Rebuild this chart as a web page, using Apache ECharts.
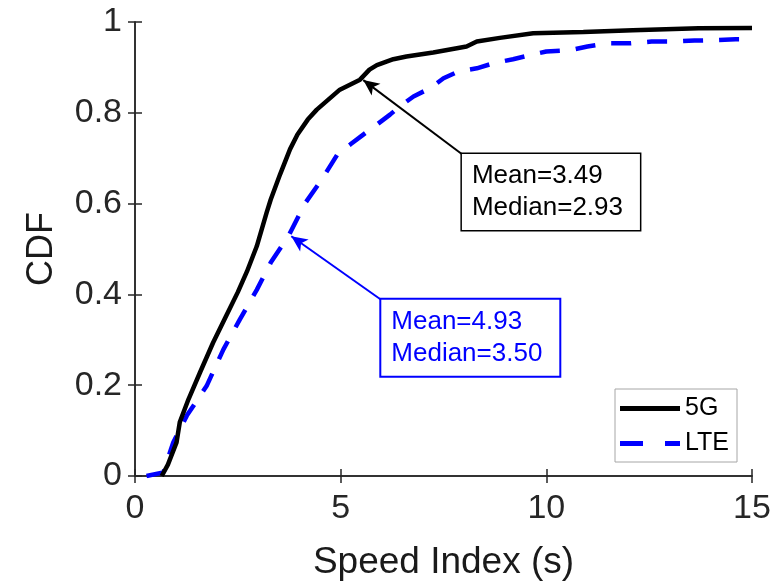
<!DOCTYPE html>
<html>
<head>
<meta charset="utf-8">
<script src="https://cdn.jsdelivr.net/npm/echarts@6/dist/echarts.min.js"></script>
<style>
  html, body { margin: 0; padding: 0; background: #fff; }
  #chart { width: 779px; height: 586px; }
</style>
</head>
<body>
<div id="chart"></div>
<script>
// CDF of speed index
const fiveGX = [0.65, 0.8, 1.01, 1.09, 1.3, 1.58, 1.9, 2.23, 2.5, 2.72, 2.96, 3.2, 3.3, 3.53, 3.77, 3.95, 4.2, 4.42, 4.98, 5.47, 5.7, 5.88, 6.28, 6.6, 7.25, 8.06, 8.31, 8.87, 9.68, 10.9, 12.1, 13.7, 15];
const fiveGY = [0, 0.025, 0.074, 0.119, 0.169, 0.228, 0.294, 0.355, 0.405, 0.45, 0.506, 0.58, 0.609, 0.665, 0.72, 0.752, 0.785, 0.807, 0.851, 0.873, 0.895, 0.905, 0.918, 0.924, 0.933, 0.946, 0.957, 0.965, 0.975, 0.978, 0.982, 0.986, 0.987];

const lteX = [0.28, 0.69, 0.93, 1.26, 1.74, 2.15, 2.55, 2.96, 3.3, 3.74, 4.13, 4.54, 4.94, 5.23, 5.55, 5.88, 6.2, 6.44, 6.77, 7.17, 7.5, 7.86, 8.31, 8.71, 9.19, 9.6, 10.0, 10.58, 11.0, 11.47, 12.04, 12.56, 13.1, 13.6, 14.1, 14.6, 15];
const lteY = [0, 0.008, 0.074, 0.133, 0.198, 0.279, 0.345, 0.41, 0.47, 0.53, 0.6, 0.653, 0.711, 0.73, 0.752, 0.774, 0.796, 0.814, 0.836, 0.854, 0.876, 0.891, 0.898, 0.909, 0.918, 0.927, 0.935, 0.938, 0.946, 0.953, 0.953, 0.957, 0.957, 0.959, 0.96, 0.962, 0.962];

const seriesNames = ['5G', 'LTE'];
const fiveGText = ['Mean=3.49', 'Median=2.93'];
const lteText = ['Mean=4.93', 'Median=3.50'];

// annotation anchors in data units: [box corner, arrow tip]
const fiveGNote = [[7.96, 0.708], [5.55, 0.872]];
const lteNote = [[6.0, 0.387], [3.8, 0.528]];

const axisColor = '#262626';
const font = 'Liberation Sans, Arial, Helvetica, sans-serif';
// legend icons: solid bar and the dash pattern of the LTE line
const solidIcon = 'path://M0,0 L60,0 L60,5 L0,5 Z';
const dashIcon = 'path://M0,0 L23,0 L23,5 L0,5 Z M45,0 L60,0 L60,5 L45,5 Z';

function pairs(xs, ys) {
  return xs.map((x, i) => [x, ys[i]]);
}

function note(anchor, lines, color, borderW) {
  return {
    markLine: {
      silent: true,
      symbol: ['none', 'arrow'],
      symbolSize: 12,
      label: { show: false },
      lineStyle: { color: color, width: 2, type: 'solid' },
      data: [[{ coord: anchor[0], symbol: 'none' }, { coord: anchor[1], symbol: 'arrow', symbolSize: [11, 16] }]]
    },
    markPoint: {
      silent: true,
      symbol: 'rect',
      symbolSize: 1,
      itemStyle: { color: 'rgba(0,0,0,0)' },
      label: {
        show: true,
        position: [0, 0],
        formatter: lines.join('\n'),
        fontFamily: font,
        fontSize: 26,
        lineHeight: 32,
        color: color,
        width: 158,
        align: 'left',
        verticalAlign: 'top',
        backgroundColor: '#fff',
        borderColor: color,
        borderWidth: borderW,
        padding: [6, 10, 6, 10]
      },
      data: [{ coord: anchor[0] }]
    }
  };
}

const chart = echarts.init(document.getElementById('chart'));

const tickStyle = { inside: true, length: 7, lineStyle: { color: axisColor, width: 1.5 } };
const lineStyle = { color: axisColor, width: 1.5 };

chart.setOption({
  animation: false,
  backgroundColor: '#fff',
  grid: { left: 135, right: 27, top: 22, bottom: 109 },
  legend: {
    data: [
      { name: seriesNames[0], icon: solidIcon },
      { name: seriesNames[1], icon: dashIcon }
    ],
    orient: 'vertical',
    right: 42,
    bottom: 124,
    padding: [7, 8, 6, 5],
    itemWidth: 60,
    itemHeight: 5,
    itemGap: 10,
    borderColor: '#a6a6a6',
    borderWidth: 1,
    backgroundColor: '#fff',
    textStyle: { fontFamily: font, fontSize: 25, color: '#000' }
  },
  xAxis: [
    {
      type: 'value', min: 0, max: 15, interval: 5,
      axisLine: { lineStyle: lineStyle },
      axisTick: tickStyle,
      splitLine: { show: false },
      axisLabel: { fontFamily: font, fontSize: 34, color: axisColor, margin: 16 },
      name: 'Speed Index (s)',
      nameLocation: 'middle',
      nameGap: 68,
      nameTextStyle: { fontFamily: font, fontSize: 37, color: '#1a1a1a' }
    },
    {
      type: 'value', min: 0, max: 15, interval: 5, position: 'top',
      axisLine: { lineStyle: lineStyle },
      axisTick: tickStyle,
      splitLine: { show: false },
      axisLabel: { show: false }
    }
  ],
  yAxis: [
    {
      type: 'value', min: 0, max: 1, interval: 0.2,
      axisLine: { show: true, lineStyle: lineStyle },
      axisTick: Object.assign({ show: true }, tickStyle),
      splitLine: { show: false },
      axisLabel: { fontFamily: font, fontSize: 34, color: axisColor, margin: 13 },
      name: 'CDF',
      nameLocation: 'middle',
      nameRotate: 90,
      nameGap: 75,
      nameTextStyle: { fontFamily: font, fontSize: 36, color: '#1a1a1a' }
    },
    {
      type: 'value', min: 0, max: 1, interval: 0.2, position: 'right',
      axisLine: { show: true, lineStyle: lineStyle },
      axisTick: Object.assign({ show: true }, tickStyle),
      splitLine: { show: false },
      axisLabel: { show: false }
    }
  ],
  series: [
    Object.assign({
      name: seriesNames[0],
      type: 'line',
      symbol: 'none',
      z: 3,
      lineStyle: { color: '#000', width: 4.5 },
      itemStyle: { color: '#000' },
      data: pairs(fiveGX, fiveGY)
    }, note(fiveGNote, fiveGText, '#000', 1.5)),
    Object.assign({
      name: seriesNames[1],
      type: 'line',
      symbol: 'none',
      z: 2,
      lineStyle: { color: '#0000ff', width: 4.5, type: [20, 16] },
      itemStyle: { color: '#0000ff' },
      data: pairs(lteX, lteY)
    }, note(lteNote, lteText, '#0000ff', 2))
  ]
});
</script>
</body>
</html>
